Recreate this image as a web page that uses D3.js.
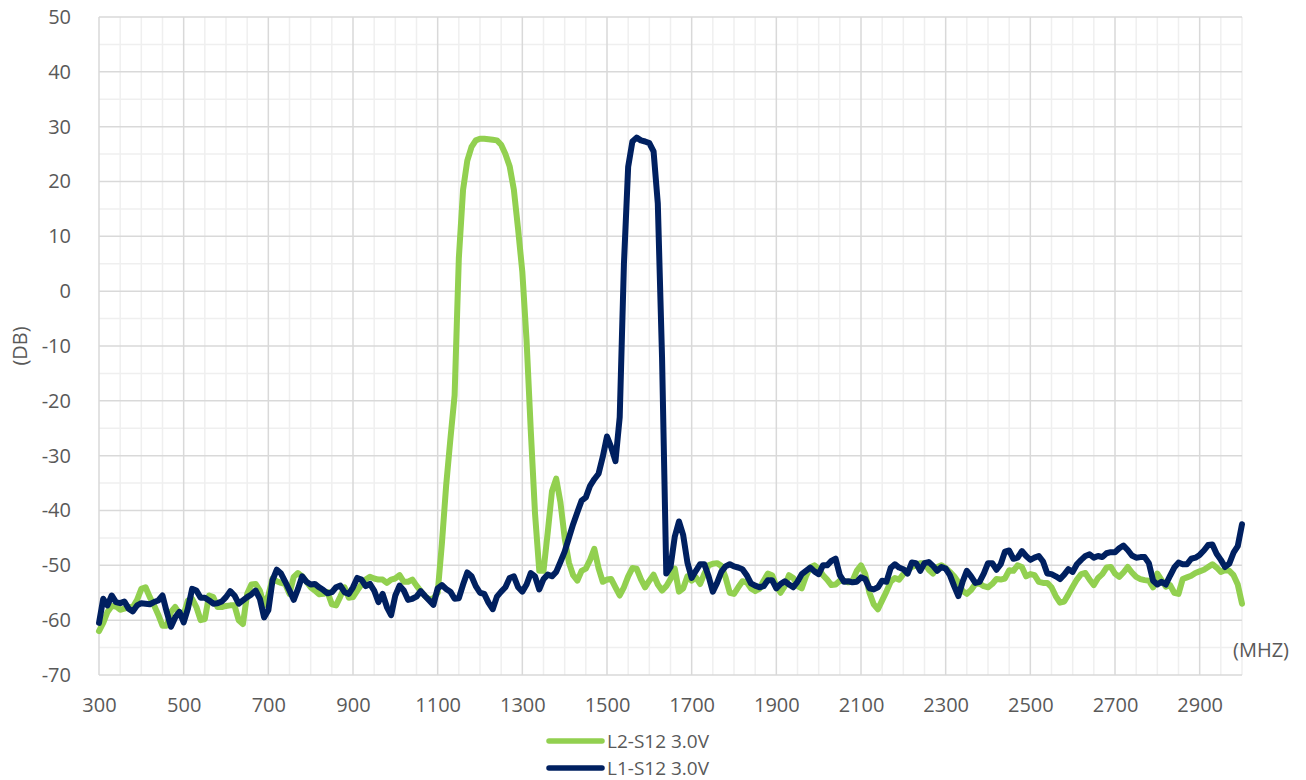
<!DOCTYPE html>
<html><head><meta charset="utf-8">
<script src="https://cdn.jsdelivr.net/npm/d3@7"></script>
<style>
html,body{margin:0;padding:0;background:#fff;}
svg{display:block;font-family:"Open Sans",sans-serif;}
</style></head><body>
<svg id="chart" width="1306" height="780"></svg>
<script>
// ---- DATA ----
const freqStart = 300, freqEnd = 3000, freqStep = 10;       // MHz sampling of the traces
const freqs = d3.range(freqStart, freqEnd + 1, freqStep);
const xTickValues = [300,500,700,900,1100,1300,1500,1700,1900,2100,2300,2500,2700,2900];
const yTickValues = [-70,-60,-50,-40,-30,-20,-10,0,10,20,30,40,50];
const seriesNames = ["L2-S12 3.0V", "L1-S12 3.0V"];
const seriesColors = ["#92D050", "#002060"];
const xTitle = "(MHZ)";
const yTitle = "(DB)";

// L2-S12 3.0V (green), 300..3000 MHz step 10
const l2Values = [
 -62,-60.5,-58.5,-57.4,-57.5,-58.1,-57.9,-57.6,-57.6,-56.3,
 -54.3,-54,-55.8,-57.3,-59,-61,-61,-58.5,-57.6,-58.8,
 -59,-56.4,-56.1,-57.6,-60,-59.8,-55.5,-55.8,-57.6,-57.6,
 -57.4,-57.3,-57.3,-60,-60.7,-55.2,-53.5,-53.4,-54.6,-57.3,
 -55.5,-52.4,-52.9,-53.2,-53.4,-55.2,-52.1,-51.4,-52,-53,
 -54,-54.6,-55.3,-55.2,-54.9,-57.1,-57.3,-55.7,-54,-55.9,
 -55.8,-54.6,-53.5,-52.6,-52.1,-52.4,-52.6,-52.6,-53.2,-52.6,
 -52.4,-51.8,-53,-53,-52.6,-53.7,-54.7,-55.6,-56.2,-56,
 -55,-46,-35.5,-27,-19,6,18.5,23.8,26.3,27.5,
 27.8,27.8,27.7,27.6,27.5,26.7,25,22.8,18.5,11.3,
 3.5,-9,-25.5,-40.6,-51,-51,-44,-36.5,-34.2,-38.5,
 -45,-49.5,-51.8,-52.8,-51,-50.6,-49,-47,-50.5,-53,
 -52.6,-52.5,-54,-55.5,-54,-52,-50.5,-50.6,-52.5,-54,
 -52.8,-51.7,-53.5,-54.6,-53.8,-52.5,-50.6,-54.8,-54.2,-52,
 -52.8,-52.2,-53.4,-51.5,-50,-49.7,-49.6,-50.1,-52.2,-55,
 -55.2,-54,-52.9,-53.1,-54.2,-54.7,-54.3,-52.8,-51.5,-51.8,
 -53.8,-55,-53.8,-51.8,-52.3,-53.8,-54.2,-52,-50.4,-50,
 -50.6,-51.8,-52.6,-53.6,-53.5,-52.8,-52.8,-53.1,-52.8,-51,
 -50,-51.6,-55,-57.1,-58,-56.4,-54.8,-53,-52.3,-52.6,
 -51.6,-50.9,-50.3,-50,-49.6,-49.6,-50.8,-51.5,-50.3,-50,
 -50.5,-51.2,-52,-53.1,-54.7,-55.2,-54.5,-53.4,-53.3,-53.8,
 -54,-53.4,-52.5,-52.6,-52.4,-50.9,-51,-50,-50.3,-52,
 -51.6,-51.8,-53,-53.2,-53.2,-54,-55.6,-56.8,-56.6,-55.3,
 -53.9,-52.6,-51.6,-51.4,-52.6,-53.6,-52.3,-51.6,-50.4,-50.3,
 -51.5,-52.1,-51.3,-50.3,-51.3,-52.1,-52.5,-52.7,-52.8,-54,
 -51.5,-52.7,-53.9,-53.6,-55,-55.2,-52.5,-52.2,-51.9,-51.4,
 -51.1,-50.8,-50.3,-49.8,-50.4,-51.2,-50.9,-51,-51.8,-53.5,
 -57
];

// L1-S12 3.0V (navy), 300..3000 MHz step 10
const l1Values = [
 -60.5,-56.1,-57.3,-55.5,-56.7,-56.9,-56.6,-57.9,-58.4,-57.3,
 -56.9,-57,-57.1,-56.7,-56.4,-55.5,-58.5,-61.2,-59.5,-58.5,
 -60.4,-57.9,-54.3,-54.6,-55.9,-55.9,-56.4,-57,-56.9,-56.6,
 -55.8,-54.7,-55.5,-57,-56.4,-55.8,-55.3,-54.6,-56.1,-59.5,
 -58.2,-52.7,-50.8,-51.5,-53,-54.6,-56.3,-54.3,-52,-53,
 -53.5,-53.4,-54,-54.5,-55.1,-54.9,-54,-53.7,-54.9,-55.2,
 -54,-52.3,-52.6,-53.8,-53.4,-54.6,-56.7,-55.2,-57.6,-59.1,
 -55.5,-53.7,-54.6,-56.3,-56.1,-55.7,-54.7,-55.6,-56.4,-57.2,
 -54.2,-53.6,-54.3,-54.8,-56.1,-56,-53.5,-51.3,-52,-53.8,
 -55,-55.2,-56.8,-58,-55.7,-54.8,-54,-52.3,-52,-54,
 -54.8,-53.5,-51.4,-52,-54.4,-52.5,-51.7,-52,-51.2,-49.4,
 -47.5,-45,-42.5,-40.3,-38.2,-37.6,-35.5,-34.3,-33.3,-30.2,
 -26.5,-28.5,-31,-23,5,22.7,27.3,28,27.5,27.3,
 27,25.5,16,-12,-51.5,-50.3,-44.8,-42,-44.5,-49.5,
 -52.3,-51,-49.8,-49.8,-52,-54.8,-53.2,-51.2,-50.2,-49.8,
 -50.2,-50.4,-50.7,-51.8,-53.3,-53.7,-54,-53.8,-52.7,-52.7,
 -54.2,-53.4,-52.9,-53.5,-54,-53,-51.6,-51,-50.4,-51.1,
 -51.6,-50,-50,-49.2,-48.8,-51.8,-53,-52.9,-53.1,-53,
 -52.2,-52.5,-54.2,-54.4,-54,-52.8,-53,-50.5,-49.8,-50.4,
 -50.7,-51.5,-49.5,-49.6,-51,-49.6,-49.4,-50.1,-51,-50.3,
 -50.6,-51.8,-53.8,-55.6,-53,-51,-52,-53.2,-53,-51.5,
 -49.6,-49.6,-50.8,-49.8,-47.5,-47.3,-48.8,-48.6,-47.4,-48.3,
 -49,-48.6,-48.3,-49.3,-51.5,-51.6,-52,-52.5,-51.7,-50.7,
 -51.2,-49.8,-49,-48.3,-48,-48.6,-48.3,-48.5,-47.8,-47.6,
 -47.6,-46.9,-46.4,-47.2,-48.2,-48.6,-48.5,-48.5,-49.6,-52.8,
 -53.5,-53,-53.5,-51.9,-50.4,-49.5,-49.8,-49.8,-48.8,-48.6,
 -48.1,-47.3,-46.3,-46.2,-47.9,-49,-50.3,-49.7,-47.7,-46.5,
 -42.5
];

// ---- CHART ----
const plot = {left: 99, right: 1242, top: 17, bottom: 675};
const svg = d3.select("#chart");
const textColor = "#595959";
const fontSize = 20;
const fmt = d => String(d);

const x = d3.scaleLinear().domain([freqStart, freqEnd]).range([plot.left, plot.right]);
const y = d3.scaleLinear().domain([-70, 50]).range([plot.bottom, plot.top]);

const grid = svg.append("g");
// minor grid
const xMinor = d3.range(freqStart, freqEnd + 1, 50).filter(v => !xTickValues.includes(v));
const yMinor = d3.range(-65, 50, 10);
grid.selectAll(".xminor").data(xMinor).join("line")
  .attr("x1", d => x(d)).attr("x2", d => x(d))
  .attr("y1", plot.top).attr("y2", plot.bottom)
  .attr("stroke", "#efefef").attr("stroke-width", 1.5);
grid.selectAll(".yminor").data(yMinor).join("line")
  .attr("x1", plot.left).attr("x2", plot.right)
  .attr("y1", d => y(d)).attr("y2", d => y(d))
  .attr("stroke", "#efefef").attr("stroke-width", 1.5);
// major grid
grid.selectAll(".xmajor").data(xTickValues).join("line")
  .attr("x1", d => x(d)).attr("x2", d => x(d))
  .attr("y1", plot.top).attr("y2", plot.bottom)
  .attr("stroke", "#d9d9d9").attr("stroke-width", 1.5);
grid.selectAll(".ymajor").data(yTickValues).join("line")
  .attr("x1", plot.left).attr("x2", plot.right)
  .attr("y1", d => y(d)).attr("y2", d => y(d))
  .attr("stroke", "#d9d9d9").attr("stroke-width", 1.5);

// axes (labels only)
const yAxis = svg.append("g").attr("transform", `translate(${plot.left},0)`)
  .call(d3.axisLeft(y).tickValues(yTickValues).tickFormat(fmt).tickSize(0).tickPadding(28));
const xAxis = svg.append("g").attr("transform", `translate(0,${plot.bottom})`)
  .call(d3.axisBottom(x).tickValues(xTickValues).tickFormat(fmt).tickSize(0).tickPadding(23));
[xAxis, yAxis].forEach(a => {
  a.select(".domain").remove();
  a.selectAll("text").attr("fill", textColor).style("font-size", fontSize + "px")
    .style("font-family", '"Open Sans", sans-serif');
});

// titles
svg.append("text").attr("transform", `translate(20,${(plot.top + plot.bottom) / 2}) rotate(-90)`)
  .attr("text-anchor", "middle").attr("dy", "0.35em").attr("fill", textColor)
  .style("font-size", "20px").text(yTitle);
svg.append("text").attr("x", 1233).attr("y", 650).attr("dy", "0.35em")
  .attr("fill", textColor).style("font-size", "20px").text(xTitle);

// series
const line = d3.line().x((d, i) => x(freqs[i])).y(d => y(d)).curve(d3.curveLinear);
[l2Values, l1Values].forEach((vals, k) => {
  svg.append("path").datum(vals)
    .attr("d", line)
    .attr("fill", "none")
    .attr("stroke", seriesColors[k])
    .attr("stroke-width", 6)
    .attr("stroke-linejoin", "round")
    .attr("stroke-linecap", "round");
});

// legend
const legend = svg.append("g");
seriesNames.forEach((name, k) => {
  const ly = 741 + k * 27;
  legend.append("line").attr("x1", 549).attr("x2", 602).attr("y1", ly).attr("y2", ly)
    .attr("stroke", seriesColors[k]).attr("stroke-width", 5.5).attr("stroke-linecap", "round");
  legend.append("text").attr("x", 607).attr("y", ly).attr("dy", "0.35em")
    .attr("fill", textColor).style("font-size", "19px").text(name);
});
</script>
</body></html>
